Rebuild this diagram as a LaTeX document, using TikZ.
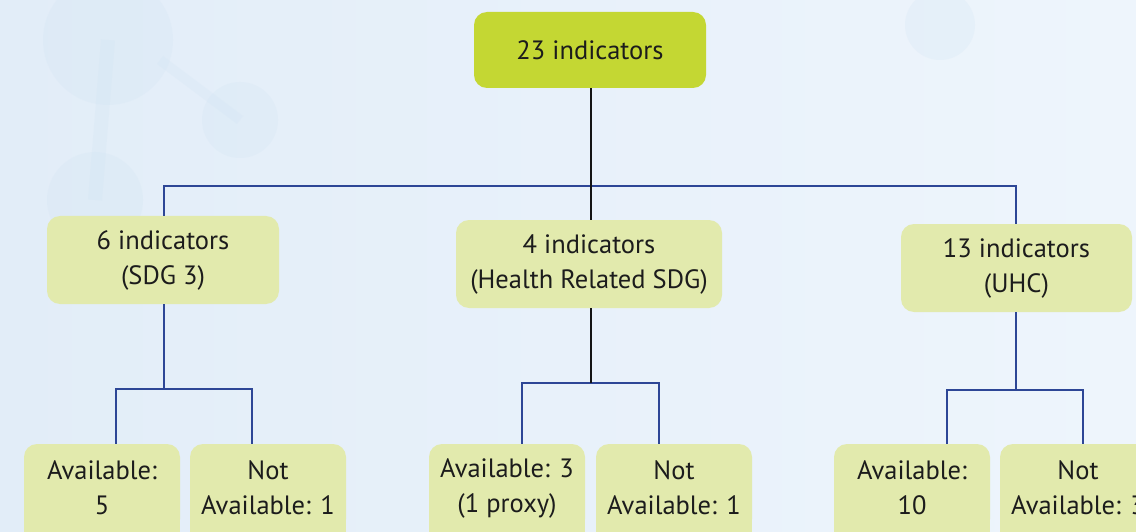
\documentclass[tikz,border=0pt]{standalone}
\usepackage{fontspec}
\setmainfont{PT Sans}
\definecolor{bgleft}{HTML}{E2EDF8}
\definecolor{bgright}{HTML}{EEF5FC}
\definecolor{molecule}{HTML}{CFE2F3}
\definecolor{topgreen}{HTML}{C4D733}
\definecolor{palegreen}{HTML}{E2EAAD}
\definecolor{linkblue}{HTML}{2D4696}
\definecolor{inkdark}{HTML}{1C1C1C}
\begin{document}
\begin{tikzpicture}[x=1pt,y=-1pt,
  box/.style={rounded corners=13pt, fill=palegreen, align=center, inner sep=0pt,
    font=\fontsize{26.5}{35}\selectfont, text=inkdark},
  topbox/.style={box, fill=topgreen, minimum width=232pt, minimum height=76pt},
  midbox/.style={box, minimum height=88pt},
  leafbox/.style={box, minimum width=156pt, minimum height=88pt},
  blueline/.style={draw=linkblue, line width=2.8pt},
  blackline/.style={draw=black!92, line width=2.8pt}]

\useasboundingbox (0,0) rectangle (1136,532);
\clip (0,0) rectangle (1136,532);

% backdrop with faint molecule shapes
\shade[left color=bgleft, right color=bgright] (0,0) rectangle (1136,532);
\begin{scope}[opacity=0.22]
  \fill[molecule] (108,40) circle (65);
  \fill[molecule] (95,200) circle (48);
  \fill[molecule] (240,120) circle (38);
  \fill[molecule] (940,25) circle (35);
  \draw[molecule, line width=14pt] (108,40) -- (95,200);
  \draw[molecule, line width=10pt] (160,60) -- (240,120);
\end{scope}

% boxes
\node[topbox] (t) at (590,50) {23 indicators};
\node[midbox, minimum width=232pt] (m1) at (163,260) {6 indicators\\(SDG 3)};
\node[midbox, minimum width=266pt] (m2) at (589,264) {4 indicators\\(Health Related SDG)};
\node[midbox, minimum width=231pt] (m3) at (1016.5,268) {13 indicators\\(UHC)};

\node[leafbox] (l1) at (102,488) {Available:\\5};
\node[leafbox] (l2) at (268,488) {Not\\Available: 1};
\node[leafbox] (l3) at (507,488) {Available: 3\\(1 proxy)};
\node[leafbox] (l4) at (674,488) {Not\\Available: 1};
\node[leafbox] (l5) at (912,488) {Available:\\10};
\node[leafbox] (l6) at (1078,488) {Not\\Available: 3};

% leaf boxes run past the lower edge: square off their bottom corners
\foreach \n in {l1,l2,l3,l4,l5,l6}
  \fill[palegreen] ([yshift=12pt]\n.south west) rectangle ([yshift=-6pt]\n.south east);

% junction points
\coordinate (bus) at (591,186);
\coordinate (j1) at (164,389);
\coordinate (j2) at (591,383);
\coordinate (j3) at (1016,390);
\coordinate (a1) at (116,389);  \coordinate (b1) at (252,389);
\coordinate (a2) at (522,383);  \coordinate (b2) at (659,383);
\coordinate (a3) at (947,390);  \coordinate (b3) at (1083,390);

% first level
\draw[blueline] (m1.north -| j1) -- (bus -| j1) -- (bus -| j3) -- (m3.north -| j3);
\draw[blackline] (t.south -| bus) -- (m2.north -| bus);

% second level
\draw[blueline] (m1.south -| j1) -- (j1);
\draw[blueline] (l1.north -| a1) -- (a1) -- (b1) -- (l2.north -| b1);
\draw[blueline] (l3.north -| a2) -- (a2) -- (b2) -- (l4.north -| b2);
\draw[blackline] (m2.south -| j2) -- (j2);
\draw[blueline] (m3.south -| j3) -- (j3);
\draw[blueline] (l5.north -| a3) -- (a3) -- (b3) -- (l6.north -| b3);
\end{tikzpicture}
\end{document}
